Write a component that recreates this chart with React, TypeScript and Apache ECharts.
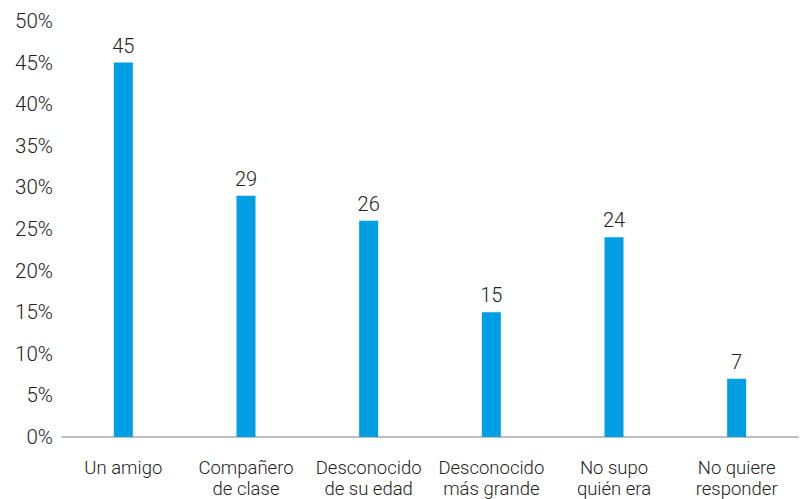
import React, { useEffect, useRef } from "react";
import * as echarts from "echarts";

const categories = [
  "Un amigo",
  "Compañero\nde clase",
  "Desconocido\nde su edad",
  "Desconocido\nmás grande",
  "No supo\nquién era",
  "No quiere\nresponder",
];
const values = [45, 29, 26, 15, 24, 7];
const yMin = 0;
const yMax = 50;
const yInterval = 5;

const FONT = "Roboto, 'Liberation Sans', Arial, sans-serif";

export default function App() {
  const ref = useRef<HTMLDivElement>(null);
  useEffect(() => {
    if (!ref.current) return;
    const chart = echarts.init(ref.current, undefined, { renderer: "svg" });
    chart.setOption({
      animation: false,
      grid: { left: 62, right: 8, top: 21, bottom: 58, containLabel: false },
      xAxis: {
        type: "category",
        data: categories,
        axisLine: { show: true, lineStyle: { color: "#bfbfbf", width: 2 } },
        axisTick: { show: false },
        axisLabel: {
          color: "#222",
          fontSize: 18.5,
          fontWeight: 300,
          fontFamily: FONT,
          lineHeight: 21,
          margin: 20,
          interval: 0,
        },
      },
      yAxis: {
        type: "value",
        min: yMin,
        max: yMax,
        interval: yInterval,
        splitLine: { show: false },
        axisLine: { show: false },
        axisTick: { show: false },
        axisLabel: {
          formatter: "{value}%",
          color: "#222",
          fontSize: 20.5,
          fontWeight: 300,
          fontFamily: FONT,
          margin: 9,
        },
      },
      series: [
        {
          type: "bar",
          data: values,
          barWidth: 19,
          itemStyle: { color: "#009FE3" },
          label: {
            show: true,
            position: "top",
            distance: 7,
            color: "#222",
            fontSize: 20,
            fontWeight: 300,
            fontFamily: FONT,
          },
        },
      ],
    });
    return () => chart.dispose();
  }, []);
  return <div ref={ref} style={{ width: 806, height: 499, position: "absolute", left: 0, top: 0 }} />;
}
